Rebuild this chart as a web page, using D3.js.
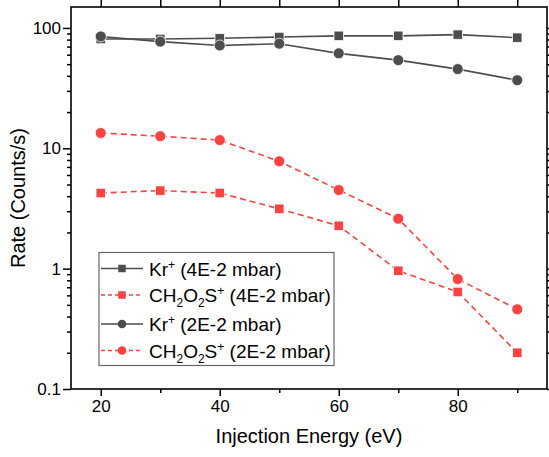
<!DOCTYPE html>
<html>
<head>
<meta charset="utf-8">
<script src="https://cdn.jsdelivr.net/npm/d3@7"></script>
<style>
  html, body { margin: 0; padding: 0; background: #fff; }
  svg { display: block; font-family: "Liberation Sans", Arial, sans-serif; }
</style>
</head>
<body>
<div id="chart"></div>
<script>
// Injection energies (eV)
const energies = [20, 30, 40, 50, 60, 70, 80, 90];

// Rates (Counts/s)
const krHigh = [81, 81, 82, 84, 86, 86, 88, 83];          // Kr+ (4E-2 mbar)
const chHigh = [4.25, 4.45, 4.25, 3.14, 2.27, 0.96, 0.64, 0.2]; // CH2O2S+ (4E-2 mbar)
const krLow = [85, 77, 71.5, 74, 61.5, 54, 45.5, 36.8];   // Kr+ (2E-2 mbar)
const chLow = [13.4, 12.6, 11.7, 7.8, 4.5, 2.6, 0.82, 0.46]; // CH2O2S+ (2E-2 mbar)

const xTicks = [20, 40, 60, 80];
const yTicks = [0.1, 1, 10, 100];

const W = 549, H = 457;
const pL = 71, pR = 547, pT = 7, pB = 389;

const gray = '#4d4d4d';
const red = '#f94343';

const series = [
  { values: krHigh, color: gray, shape: d3.symbolSquare, dash: null, name: 'Kr', label: ' (4E-2 mbar)' },
  { values: chHigh, color: red, shape: d3.symbolSquare, dash: '6,4', name: 'CH2O2S', label: ' (4E-2 mbar)' },
  { values: krLow, color: gray, shape: d3.symbolCircle, dash: null, name: 'Kr', label: ' (2E-2 mbar)' },
  { values: chLow, color: red, shape: d3.symbolCircle, dash: '6,4', name: 'CH2O2S', label: ' (2E-2 mbar)' }
];

const svg = d3.select('#chart').append('svg')
  .attr('width', W)
  .attr('height', H);

const x = d3.scaleLinear().domain([15, 95]).range([pL, pR]);
const y = d3.scaleLog().domain([0.1, 149.3]).range([pB, pT]);

// minor ticks
const xMinor = d3.range(20, 95, 10).filter(v => !xTicks.includes(v));
const yMinor = [];
[0.1, 1, 10, 100].forEach(d => {
  for (let k = 2; k <= 9; k++) {
    if (d * k <= 149) yMinor.push(d * k);
  }
});

const axisStyle = g => {
  g.select('.domain').remove();
  g.selectAll('line').attr('stroke', '#000').attr('stroke-width', 1.5);
  g.selectAll('text').attr('font-size', '17px').attr('fill', '#000')
    .attr('font-family', '"Liberation Sans", Arial, sans-serif');
};

// bottom axis
svg.append('g')
  .attr('transform', `translate(0,${pB})`)
  .call(d3.axisBottom(x).tickValues(xTicks).tickSize(7).tickPadding(4).tickFormat(d3.format('d')))
  .call(axisStyle);
svg.append('g')
  .attr('transform', `translate(0,${pB})`)
  .call(d3.axisBottom(x).tickValues(xMinor).tickSize(4).tickFormat(''))
  .call(axisStyle);

// top axis (mirror)
svg.append('g')
  .attr('transform', `translate(0,${pT})`)
  .call(d3.axisTop(x).tickValues(xTicks).tickSize(7).tickFormat(''))
  .call(axisStyle);
svg.append('g')
  .attr('transform', `translate(0,${pT})`)
  .call(d3.axisTop(x).tickValues(xMinor).tickSize(7).tickFormat(''))
  .call(axisStyle);

// left axis
svg.append('g')
  .attr('transform', `translate(${pL},0)`)
  .call(d3.axisLeft(y).tickValues(yTicks).tickSize(8).tickPadding(2).tickFormat(d => d < 1 ? '0.1' : d3.format('d')(d)))
  .call(axisStyle);
svg.append('g')
  .attr('transform', `translate(${pL},0)`)
  .call(d3.axisLeft(y).tickValues(yMinor).tickSize(4).tickFormat(''))
  .call(axisStyle);

// right axis (mirror)
svg.append('g')
  .attr('transform', `translate(${pR},0)`)
  .call(d3.axisRight(y).tickValues(yTicks).tickSize(8).tickFormat(''))
  .call(axisStyle);
svg.append('g')
  .attr('transform', `translate(${pR},0)`)
  .call(d3.axisRight(y).tickValues(yMinor).tickSize(4).tickFormat(''))
  .call(axisStyle);

// frame
svg.append('rect')
  .attr('x', pL).attr('y', pT)
  .attr('width', pR - pL).attr('height', pB - pT)
  .attr('fill', 'none')
  .attr('stroke', '#000')
  .attr('stroke-width', 1.6);

// axis titles
svg.append('text')
  .attr('x', (pL + pR) / 2)
  .attr('y', 443)
  .attr('text-anchor', 'middle')
  .attr('font-size', '20px')
  .text('Injection Energy (eV)');

svg.append('text')
  .attr('transform', `translate(25,${(pT + pB) / 2}) rotate(-90)`)
  .attr('text-anchor', 'middle')
  .attr('font-size', '20px')
  .text('Rate (Counts/s)');

// series
const line = d3.line()
  .x((d, i) => x(energies[i]))
  .y(d => y(d));

series.forEach(s => {
  const g = svg.append('g');
  g.append('path')
    .datum(s.values)
    .attr('d', line)
    .attr('fill', 'none')
    .attr('stroke', s.color)
    .attr('stroke-width', 1.6)
    .attr('stroke-dasharray', s.dash);

  g.selectAll('path.mark')
    .data(s.values)
    .enter()
    .append('path')
    .attr('class', 'mark')
    .attr('transform', (d, i) => `translate(${x(energies[i])},${y(d)})`)
    .attr('d', d3.symbol().type(s.shape).size(s.shape === d3.symbolSquare ? 90 : 95))
    .attr('fill', s.color)
    .attr('stroke', '#fff')
    .attr('stroke-width', 0.8);
});

// legend
const legend = svg.append('g');
legend.append('rect')
  .attr('x', 99).attr('y', 252.5)
  .attr('width', 235).attr('height', 113)
  .attr('fill', '#fff')
  .attr('stroke', '#666')
  .attr('stroke-width', 1.2);

const rowY = [268.5, 295, 324, 350.5];

series.forEach((s, i) => {
  const ry = rowY[i];
  legend.append('line')
    .attr('x1', 101).attr('x2', 143)
    .attr('y1', ry).attr('y2', ry)
    .attr('stroke', s.color)
    .attr('stroke-width', 1.4)
    .attr('stroke-dasharray', s.dash ? '4,3' : null);
  legend.append('path')
    .attr('transform', `translate(122,${ry})`)
    .attr('d', d3.symbol().type(s.shape).size(s.shape === d3.symbolSquare ? 56 : 60))
    .attr('fill', s.color);

  const t = legend.append('text')
    .attr('x', 149)
    .attr('y', ry + 7)
    .attr('font-size', '19px')
    .attr('fill', '#000');
  if (s.name === 'Kr') {
    t.append('tspan').text('Kr');
    t.append('tspan').attr('dy', -7).attr('font-size', '12px').text('+');
    t.append('tspan').attr('dy', 7).text(s.label);
  } else {
    t.append('tspan').text('CH');
    t.append('tspan').attr('dy', 5).attr('font-size', '12px').text('2');
    t.append('tspan').attr('dy', -5).text('O');
    t.append('tspan').attr('dy', 5).attr('font-size', '12px').text('2');
    t.append('tspan').attr('dy', -5).text('S');
    t.append('tspan').attr('dy', -7).attr('font-size', '12px').text('+');
    t.append('tspan').attr('dy', 7).text(s.label);
  }
});
</script>
</body>
</html>
